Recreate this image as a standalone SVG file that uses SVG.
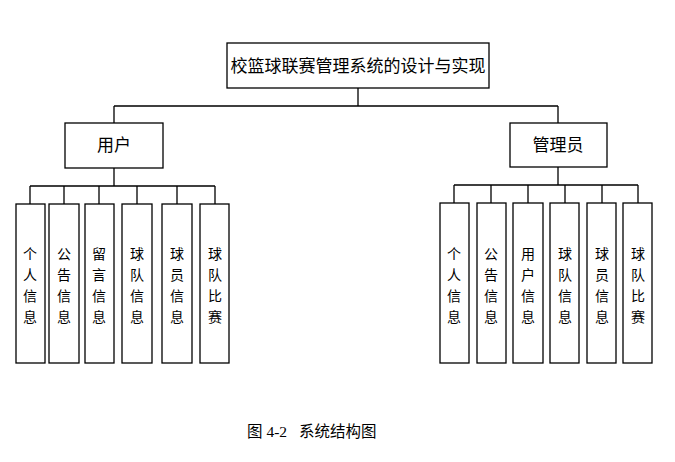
<svg xmlns="http://www.w3.org/2000/svg" width="675" height="462" viewBox="0 0 675 462">
<style>
.b{fill:#fff;stroke:#000;stroke-width:1.3}
.l{fill:none;stroke:#000;stroke-width:1.3}
text{font-family:"Liberation Serif","Noto Sans CJK SC",serif;fill:#000}
.t{font-size:17px;text-anchor:middle}
.v{font-size:14px;text-anchor:middle;font-family:"Liberation Sans","Noto Sans CJK SC",sans-serif}
</style>
<rect width="675" height="462" fill="#fff"/>
<g id="connectors">
<path class="l" d="M358 88V106M114 106H558M114 106V123M558 106V123"/>
<path class="l" d="M114 168V186M30 186H215M30 186V204M64 186V204M99 186V204M137 186V204M177 186V204M215 186V204"/>
<path class="l" d="M558 167V185M454 185H638M454 185V203M491 185V203M528 185V203M565 185V203M602 185V203M638 185V203"/>
</g>
<g id="root"><rect class="b" x="227" y="43" width="262" height="45"/><text class="t" x="358" y="72">校篮球联赛管理系统的设计与实现</text></g>
<g id="user"><rect class="b" x="65" y="123" width="98" height="45"/><text class="t" x="114" y="151">用户</text></g>
<g id="admin"><rect class="b" x="510" y="123" width="97" height="44"/><text class="t" x="558" y="151">管理员</text></g>
<g id="u1"><rect class="b" x="16" y="204" width="29" height="159"/><text class="v" x="30" y="259">个<tspan x="30" dy="21">人</tspan><tspan x="30" dy="21">信</tspan><tspan x="30" dy="21">息</tspan></text></g>
<g id="u2"><rect class="b" x="49" y="204" width="30" height="159"/><text class="v" x="64" y="259">公<tspan x="64" dy="21">告</tspan><tspan x="64" dy="21">信</tspan><tspan x="64" dy="21">息</tspan></text></g>
<g id="u3"><rect class="b" x="85" y="204" width="29" height="159"/><text class="v" x="99" y="259">留<tspan x="99" dy="21">言</tspan><tspan x="99" dy="21">信</tspan><tspan x="99" dy="21">息</tspan></text></g>
<g id="u4"><rect class="b" x="122" y="204" width="30" height="159"/><text class="v" x="137" y="259">球<tspan x="137" dy="21">队</tspan><tspan x="137" dy="21">信</tspan><tspan x="137" dy="21">息</tspan></text></g>
<g id="u5"><rect class="b" x="162" y="204" width="30" height="159"/><text class="v" x="177" y="259">球<tspan x="177" dy="21">员</tspan><tspan x="177" dy="21">信</tspan><tspan x="177" dy="21">息</tspan></text></g>
<g id="u6"><rect class="b" x="200" y="204" width="29" height="159"/><text class="v" x="215" y="259">球<tspan x="215" dy="21">队</tspan><tspan x="215" dy="21">比</tspan><tspan x="215" dy="21">赛</tspan></text></g>
<g id="a1"><rect class="b" x="440" y="203" width="29" height="160"/><text class="v" x="454" y="259">个<tspan x="454" dy="21">人</tspan><tspan x="454" dy="21">信</tspan><tspan x="454" dy="21">息</tspan></text></g>
<g id="a2"><rect class="b" x="477" y="203" width="29" height="160"/><text class="v" x="491" y="259">公<tspan x="491" dy="21">告</tspan><tspan x="491" dy="21">信</tspan><tspan x="491" dy="21">息</tspan></text></g>
<g id="a3"><rect class="b" x="513" y="203" width="30" height="160"/><text class="v" x="528" y="259">用<tspan x="528" dy="21">户</tspan><tspan x="528" dy="21">信</tspan><tspan x="528" dy="21">息</tspan></text></g>
<g id="a4"><rect class="b" x="550" y="203" width="29" height="160"/><text class="v" x="565" y="259">球<tspan x="565" dy="21">队</tspan><tspan x="565" dy="21">信</tspan><tspan x="565" dy="21">息</tspan></text></g>
<g id="a5"><rect class="b" x="587" y="203" width="29" height="160"/><text class="v" x="602" y="259">球<tspan x="602" dy="21">员</tspan><tspan x="602" dy="21">信</tspan><tspan x="602" dy="21">息</tspan></text></g>
<g id="a6"><rect class="b" x="623" y="203" width="29" height="160"/><text class="v" x="638" y="259">球<tspan x="638" dy="21">队</tspan><tspan x="638" dy="21">比</tspan><tspan x="638" dy="21">赛</tspan></text></g>
<text x="247" y="437" style="font-size:15.5px">图 4-2<tspan x="299">系统结构图</tspan></text>
</svg>
